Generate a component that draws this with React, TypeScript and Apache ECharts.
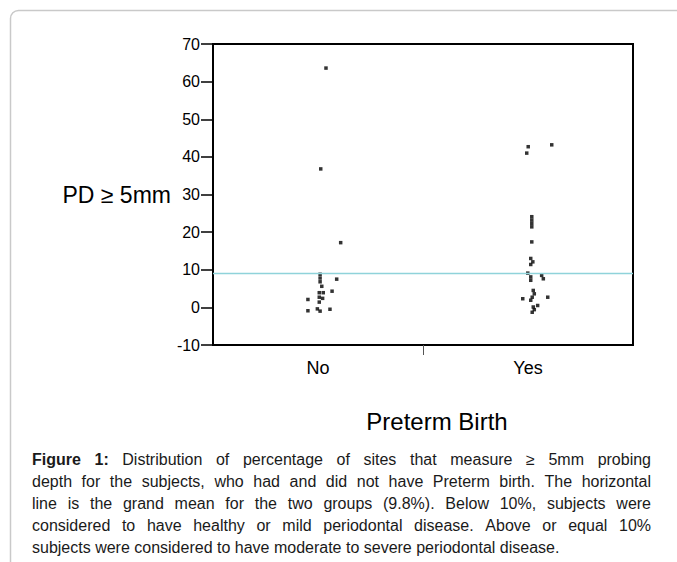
import React, { useEffect, useRef } from 'react';
import * as echarts from 'echarts';

// ---------- data ----------
const CATEGORIES = ['No', 'Yes'];

// "No" group: value (% sites with PD >= 5mm) and horizontal jitter within the category
const NO_VALUES = [63.6, 36.8, 17.2, 8.8, 7.8, 6.8, 7.5, 5.6, 4.3, 3.9, 3.9, 2.7, 2.4, 1.4, 2.1, -0.9, -0.4, -1.0, -0.5];
const NO_JITTER = [0.038, 0.013, 0.108, 0.01, 0.01, 0.01, 0.089, 0.018, 0.067, 0.006, 0.025, 0.006, 0.022, 0.006, -0.048, -0.048, -0.003, 0.01, 0.057];

// "Yes" group
const YES_VALUES = [43.2, 42.7, 41.0, 24.1, 23.2, 22.3, 21.4, 17.4, 13.0, 12.1, 11.4, 9.1, 8.1, 7.2, 8.5, 7.6, 4.5, 3.6, 2.7, 2.3, 2.7, 1.9, 0.5, 0.1, -0.6, -1.3];
const YES_JITTER = [0.113, 0.001, -0.006, 0.018, 0.018, 0.018, 0.018, 0.018, 0.013, 0.023, 0.013, -0.001, 0.013, 0.013, 0.065, 0.073, 0.025, 0.03, 0.02, -0.025, 0.094, 0.013, 0.046, 0.025, 0.03, 0.02];

const GRAND_MEAN = 9.2;
const Y_MIN = -10;
const Y_MAX = 70;
const Y_INTERVAL = 10;

const Y_NAME = 'PD \u2265 5mm';
const X_NAME = 'Preterm Birth';
const CAPTION_LINES = [
  'Figure 1: Distribution of percentage of sites that measure \u2265 5mm probing',
  'depth for the subjects, who had and did not have Preterm birth. The horizontal',
  'line is the grand mean for the two groups (9.8%).  Below 10%, subjects were',
  'considered to have healthy or mild periodontal disease. Above or equal 10%',
  'subjects were considered to have moderate to severe periodontal disease.',
];

const FONT = '"Liberation Sans", Arial, sans-serif';

function buildCaption(): any[] {
  const canvas = document.createElement('canvas');
  const ctx = canvas.getContext('2d')!;
  const measure = (t: string, bold: boolean) => {
    ctx.font = `${bold ? 'bold ' : ''}16px "Liberation Sans", Arial`;
    return ctx.measureText(t).width;
  };
  const left = 32;
  const right = 651;
  const top = 459;
  const lh = 22;
  const els: any[] = [];
  CAPTION_LINES.forEach((line, li) => {
    const words = line.split(/\s+/);
    const isBold = (wi: number) => li === 0 && wi < 2;
    const widths = words.map((w, wi) => measure(w, isBold(wi)));
    const sum = widths.reduce((a, b) => a + b, 0);
    const last = li === CAPTION_LINES.length - 1;
    const gap = last ? measure(' ', false) : (right - left - sum) / (words.length - 1);
    let x = left;
    const y = top + li * lh;
    words.forEach((w, wi) => {
      els.push({
        type: 'text',
        x,
        y,
        style: {
          text: w,
          fontSize: 16,
          fontFamily: FONT,
          fontWeight: isBold(wi) ? 'bold' : 'normal',
          fill: '#1a1a1a',
          align: 'left',
          textAlign: 'left',
          verticalAlign: 'middle',
          textVerticalAlign: 'middle',
        },
      });
      x += widths[wi] + gap;
    });
  });
  return els;
}

export default function App() {
  const ref = useRef<HTMLDivElement>(null);

  useEffect(() => {
    if (!ref.current) return;
    const chart = echarts.init(ref.current, undefined, { renderer: 'svg' });

    const noData = NO_VALUES.map((v, i) => [0.5 + NO_JITTER[i], v]);
    const yesData = YES_VALUES.map((v, i) => [1.5 + YES_JITTER[i], v]);

    chart.setOption({
      animation: false,
      backgroundColor: '#fff',
      grid: {
        left: 213,
        top: 44,
        width: 420,
        height: 301,
        show: true,
        borderColor: '#000',
        borderWidth: 2,
        backgroundColor: 'transparent',
      },
      xAxis: {
        type: 'value',
        min: 0,
        max: CATEGORIES.length,
        axisLine: { show: false, onZero: false },
        splitLine: { show: false },
        axisTick: {
          show: true,
          customValues: [1],
          length: 10,
          lineStyle: { color: '#555', width: 1 },
        },
        axisLabel: {
          show: true,
          customValues: CATEGORIES.map((_, i) => i + 0.5),
          formatter: (v: number) => CATEGORIES[Math.floor(v)] ?? '',
          fontSize: 18,
          fontFamily: FONT,
          color: '#000',
          margin: 14,
        },
      },
      yAxis: {
        type: 'value',
        min: Y_MIN,
        max: Y_MAX,
        interval: Y_INTERVAL,
        name: Y_NAME,
        nameLocation: 'middle',
        nameRotate: 0,
        nameGap: 34,
        nameTextStyle: { fontSize: 23, fontFamily: FONT, color: '#000' },
        axisLine: { show: false, onZero: false },
        splitLine: { show: false },
        axisTick: { show: true, length: 12, lineStyle: { color: '#000', width: 1.5 } },
        axisLabel: { fontSize: 16, fontFamily: FONT, color: '#000', margin: 13 },
      },
      series: [
        {
          name: CATEGORIES[0],
          type: 'scatter',
          data: noData,
          symbol: 'rect',
          symbolSize: 3.5,
          itemStyle: { color: '#000' },
          markLine: {
            silent: true,
            symbol: 'none',
            label: { show: false },
            lineStyle: { color: '#8fd3da', width: 1.3, type: 'solid', opacity: 1 },
            data: [{ yAxis: GRAND_MEAN }],
          },
        },
        {
          name: CATEGORIES[1],
          type: 'scatter',
          data: yesData,
          symbol: 'rect',
          symbolSize: 3.5,
          itemStyle: { color: '#000' },
        },
      ],
      graphic: [
        {
          type: 'rect',
          shape: { x: 10.5, y: 10.5, width: 720, height: 620, r: 8 },
          style: { fill: 'none', stroke: '#c9c9c9', lineWidth: 1.5 },
          silent: true,
        },
        {
          type: 'text',
          x: 437,
          y: 421,
          style: {
            text: X_NAME,
            fontSize: 24,
            fontFamily: FONT,
            fill: '#000',
            align: 'center',
            textAlign: 'center',
            verticalAlign: 'middle',
            textVerticalAlign: 'middle',
          },
        },
        ...buildCaption(),
      ],
    });

    return () => chart.dispose();
  }, []);

  return (
    <div
      ref={ref}
      style={{ position: 'absolute', left: 0, top: 0, width: 677, height: 562 }}
    />
  );
}
